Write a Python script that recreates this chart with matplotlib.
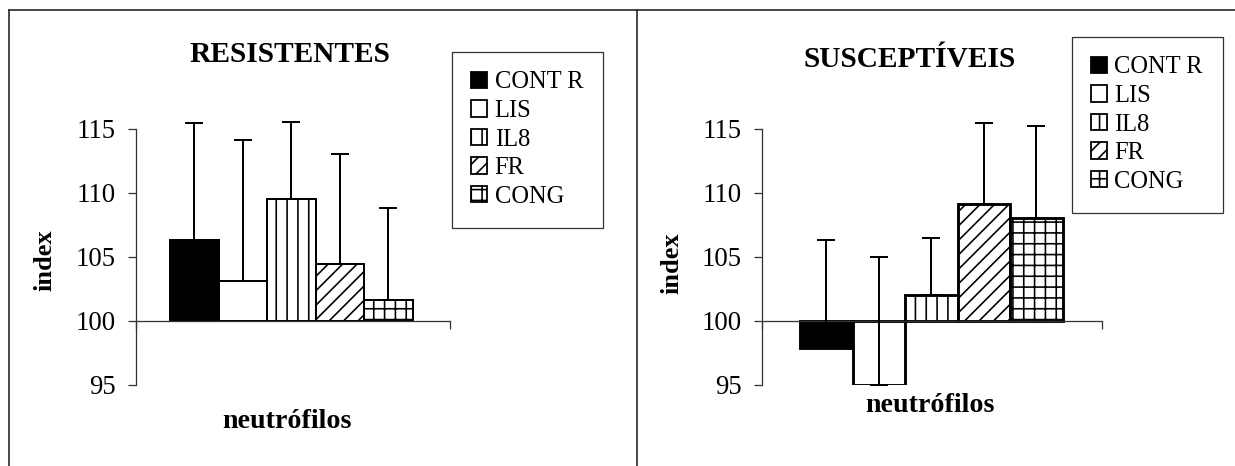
import numpy as np
import matplotlib
matplotlib.use("Agg")
import matplotlib.pyplot as plt
from matplotlib.lines import Line2D

# ---------------------------------------------
# Data
# ---------------------------------------------

groups = ["CONT R", "LIS", "IL8", "FR", "CONG"]
hatches = ["", "", "||", "///", "++"]
fills = ["black", "white", "white", "white", "white"]

res_index = [106.3, 103.1, 109.5, 104.4, 101.6]
res_err = [9.1, 11.0, 6.0, 8.6, 7.2]

sus_index = [97.9, 95.0, 102.0, 109.1, 108.0]
sus_err = [8.4, 10.0, 4.5, 6.3, 7.2]

yticks = [95, 100, 105, 110, 115]

# ---------------------------------------------
# Figure setup
# ---------------------------------------------

W, H, DPI = 1235, 466, 130
plt.rcParams["font.family"] = ["Liberation Serif", "DejaVu Serif"]
plt.rcParams["hatch.linewidth"] = 0.9

fig = plt.figure(figsize=(W / DPI, H / DPI), dpi=DPI)


def fx(px):
    return px / W


def fy(py):
    return 1 - py / H


# outer frame and divider
frame_kw = dict(transform=fig.transFigure, color="#222222", lw=0.9)
fig.add_artist(Line2D([fx(9.3), 1.0], [fy(10), fy(10)], **frame_kw))
fig.add_artist(Line2D([fx(9.3), fx(9.3)], [fy(10), 0.0], **frame_kw))
fig.add_artist(Line2D([fx(636.7), fx(636.7)], [fy(10), 0.0], **frame_kw))


def draw_panel(left_px, right_px, vals, errs, xlim, edge_lw, title, title_xy,
               ylab_xy, xlab_xy, legend_xy):
    ax = fig.add_axes([fx(left_px), fy(385), fx(right_px - left_px), (385 - 128.5) / H])
    x = np.arange(len(groups))
    heights = np.array(vals) - 100
    bars = ax.bar(x, heights, bottom=100, width=1.0, color=fills,
                  edgecolor="black", linewidth=edge_lw, zorder=2)
    for b, h in zip(bars.patches, hatches):
        b.set_hatch(h)
    eb = ax.errorbar(x, vals, yerr=[np.zeros(len(vals)), errs], fmt="none",
                     ecolor="black", elinewidth=1.1, capsize=5, capthick=1.1,
                     zorder=3)
    for part in eb.lines:
        if part is None:
            continue
        items = part if isinstance(part, tuple) else (part,)
        for it in items:
            it.set_clip_on(False)

    ax.set_ylim(95, 115)
    ax.set_xlim(*xlim)
    ax.set_yticks(yticks)
    ax.set_xticks(list(xlim))
    ax.set_xticklabels([])
    ax.spines["top"].set_visible(False)
    ax.spines["right"].set_visible(False)
    ax.spines["bottom"].set_position(("data", 100))
    for s in ("left", "bottom"):
        ax.spines[s].set_color("#333333")
        ax.spines[s].set_linewidth(0.7)
    ax.tick_params(axis="both", direction="out", length=4.3, width=0.7,
                   color="#333333")
    ax.tick_params(axis="y", labelsize=14.8, pad=7)
    ax.patch.set_alpha(0)

    fig.text(fx(title_xy[0]), fy(title_xy[1]), title, ha="center", va="center",
             fontsize=16.3, fontweight="bold")
    fig.text(fx(ylab_xy[0]), fy(ylab_xy[1]), "index", ha="center", va="center",
             rotation=90, fontsize=14.6, fontweight="bold")
    fig.text(fx(xlab_xy[0]), fy(xlab_xy[1]), "neutrófilos", ha="center",
             va="center", fontsize=15.5, fontweight="bold")

    leg = ax.legend(bars.patches, groups, loc="upper left",
                    bbox_to_anchor=(fx(legend_xy[0]), fy(legend_xy[1])),
                    bbox_transform=fig.transFigure, borderaxespad=0,
                    fontsize=13.6, frameon=True, fancybox=False,
                    handlelength=0.65, handleheight=0.65, handletextpad=0.3,
                    labelspacing=0.27, borderpad=0.8)
    leg.get_frame().set_edgecolor("black")
    leg.get_frame().set_linewidth(0.7)
    for p in leg.get_patches():
        p.set_linewidth(1.0)
    return ax


# ---------------------------------------------
# RESISTENTES
# ---------------------------------------------

draw_panel(136, 450, res_index, res_err, (-1.2, 5.27), 1.1, "RESISTENTES",
           (289.7, 55), (45, 260), (287, 421), (451.7, 51.7))

# ---------------------------------------------
# SUSCEPTÍVEIS
# ---------------------------------------------

draw_panel(761.7, 1102, sus_index, sus_err, (-1.23, 5.25), 1.6, "SUSCEPTÍVEIS",
           (909.6, 60), (672, 263), (930, 405), (1071.5, 36.7))

plt.savefig("out.png", dpi=DPI)
